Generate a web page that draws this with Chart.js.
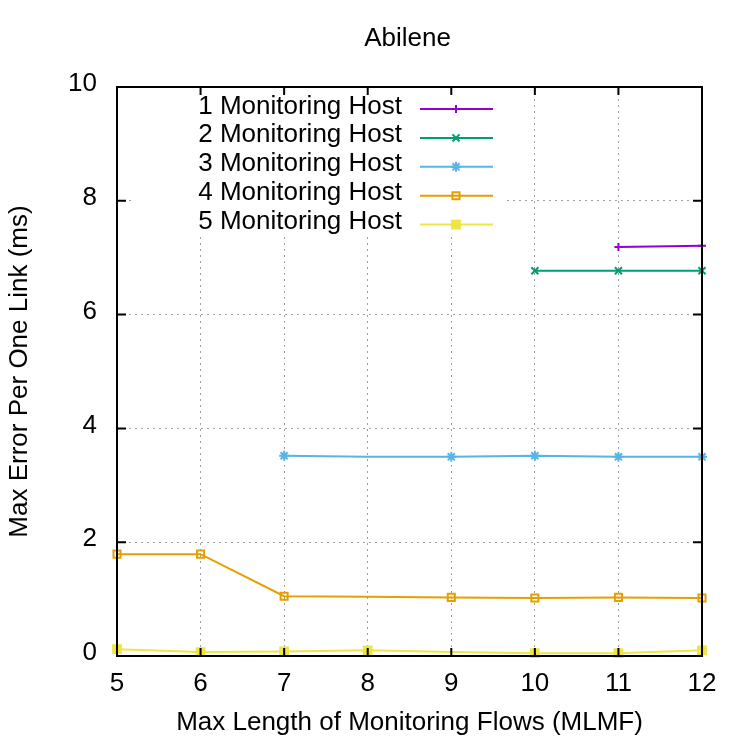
<!DOCTYPE html>
<html>
<head>
<meta charset="utf-8">
<script src="https://cdn.jsdelivr.net/npm/chart.js@4.4.0/dist/chart.umd.min.js"></script>
<style>
  html, body { margin: 0; background: #fff; }
  #wrap { width: 750px; height: 750px; }
</style>
</head>
<body>
<div id="wrap"><canvas id="chart"></canvas></div>
<script>
// values
const flowLengths = [5, 6, 7, 8, 9, 10, 11, 12];
const host1 = [null, null, null, null, null, null, 7.19, 7.21];
const host2 = [null, null, null, null, null, 6.77, 6.77, 6.77];
const host3 = [null, null, 3.52, 3.5, 3.5, 3.52, 3.5, 3.5];
const host4 = [1.79, 1.79, 1.05, 1.04, 1.03, 1.02, 1.03, 1.02];
const host5 = [0.12, 0.07, 0.08, 0.1, 0.07, 0.05, 0.05, 0.1];
const seriesNames = ['1 Monitoring Host', '2 Monitoring Host', '3 Monitoring Host', '4 Monitoring Host', '5 Monitoring Host'];
const yTicks = [0, 2, 4, 6, 8, 10];
const chartTitle = 'Abilene';

Chart.defaults.font.family = "'Liberation Sans', Arial, sans-serif";
Chart.defaults.color = '#000';

const FONT = 26;

function pts(arr) {
    return flowLengths.map((x, i) => ({ x: x, y: arr[i] }));
}

// gnuplot style: white key box, border with inward ticks, key drawn on top
const gnuplotFrame = {
    id: 'gnuplotFrame',
    beforeDatasetsDraw(chart) {
        const ctx = chart.ctx;
        ctx.save();
        ctx.fillStyle = '#fff';
        ctx.fillRect(132, 89, 373, 146);
        ctx.restore();
    },
    afterDatasetsDraw(chart) {
        const ctx = chart.ctx;
        const a = chart.chartArea;
        const xs = chart.scales.x, ys = chart.scales.y;
        ctx.save();
        ctx.strokeStyle = '#000';
        ctx.lineWidth = 2;
        ctx.beginPath();
        flowLengths.forEach(v => {
            const px = xs.getPixelForValue(v);
            ctx.moveTo(px, a.bottom); ctx.lineTo(px, a.bottom - 8);
            ctx.moveTo(px, a.top); ctx.lineTo(px, a.top + 8);
        });
        yTicks.forEach(v => {
            const py = ys.getPixelForValue(v);
            ctx.moveTo(a.left, py); ctx.lineTo(a.left + 9, py);
            ctx.moveTo(a.right, py); ctx.lineTo(a.right - 9, py);
        });
        ctx.stroke();
        ctx.strokeRect(a.left, a.top, a.right - a.left, a.bottom - a.top);

        ctx.font = FONT + "px 'Liberation Sans', Arial, sans-serif";
        ctx.fillStyle = '#000';
        ctx.textAlign = 'center';
        ctx.textBaseline = 'middle';
        ctx.fillText(chartTitle, (a.left + a.right) / 2 - 2, 39);

        // key
        ctx.textAlign = 'right';
        ctx.textBaseline = 'alphabetic';
        chart.data.datasets.forEach((ds, i) => {
            const y = 109 + i * 28.9;
            ctx.fillStyle = '#000';
            ctx.fillText(ds.label, 402, y + 4.5);
            ctx.strokeStyle = ds.borderColor;
            ctx.lineWidth = 2;
            ctx.beginPath();
            ctx.moveTo(420, y); ctx.lineTo(493, y);
            ctx.stroke();
            ctx.fillStyle = ds.pointBackgroundColor;
            ctx.lineWidth = ds.pointBorderWidth;
            Chart.helpers.drawPoint(ctx, {
                pointStyle: ds.pointStyle,
                radius: ds.legendRadius,
                borderWidth: ds.pointBorderWidth,
                rotation: 0
            }, 456, y);
        });
        ctx.restore();
    }
};

function series(label, data, color, style, radius, radii, filled) {
    return {
        label: label,
        data: pts(data),
        borderColor: color,
        backgroundColor: color,
        borderWidth: 2,
        pointStyle: style,
        pointRadius: radii,
        legendRadius: radius,
        pointBorderColor: color,
        pointBackgroundColor: filled ? color : 'rgba(0,0,0,0)',
        pointBorderWidth: 2,
        pointHoverRadius: 0,
        tension: 0,
        spanGaps: false,
        clip: false
    };
}

new Chart(document.getElementById('chart'), {
    type: 'line',
    data: {
        datasets: [
            series(seriesNames[0], host1, '#9400d3', 'cross', 4, [4, 4, 4, 4, 4, 4, 4, 4], false),
            series(seriesNames[1], host2, '#009e73', 'crossRot', 5, [5, 5, 5, 5, 5, 5, 5, 5], false),
            series(seriesNames[2], host3, '#56b4e9', 'star', 5, [5, 5, 5, 0, 5, 5, 5, 5], false),
            series(seriesNames[3], host4, '#e69f00', 'rect', 5, [5, 5, 5, 0, 5, 5, 5, 5], false),
            series(seriesNames[4], host5, '#f0e442', 'rect', 5.5, [5.5, 5.5, 5.5, 5.5, 0, 5.5, 5.5, 5.5], true)
        ]
    },
    plugins: [gnuplotFrame],
    options: {
        responsive: true,
        maintainAspectRatio: false,
        animation: false,
        events: [],
        layout: { padding: { left: 0, right: 48, top: 87, bottom: 0 } },
        plugins: {
            legend: { display: false },
            tooltip: { enabled: false },
            title: { display: false }
        },
        scales: {
            x: {
                type: 'linear',
                min: 5,
                max: 12,
                afterFit(scale) { scale.height = 94; },
                ticks: { stepSize: 1, font: { size: FONT }, padding: 12, color: '#000' },
                grid: { color: '#a0a0a0', lineWidth: 1, drawTicks: false },
                border: { display: false, dash: [2, 4] },
                title: {
                    display: true,
                    text: 'Max Length of Monitoring Flows (MLMF)',
                    font: { size: FONT },
                    color: '#000',
                    padding: { top: 0, bottom: 12 }
                }
            },
            y: {
                min: 0,
                max: 10,
                afterFit(scale) { scale.width = 117; },
                ticks: { stepSize: 2, font: { size: FONT }, padding: 20, labelOffset: -3, color: '#000' },
                grid: { color: '#a0a0a0', lineWidth: 1, drawTicks: false },
                border: { display: false, dash: [2, 4] },
                title: {
                    display: true,
                    text: 'Max Error Per One Link (ms)',
                    font: { size: FONT },
                    color: '#000',
                    padding: { top: 4, bottom: 0 }
                }
            }
        }
    }
});
</script>
</body>
</html>
